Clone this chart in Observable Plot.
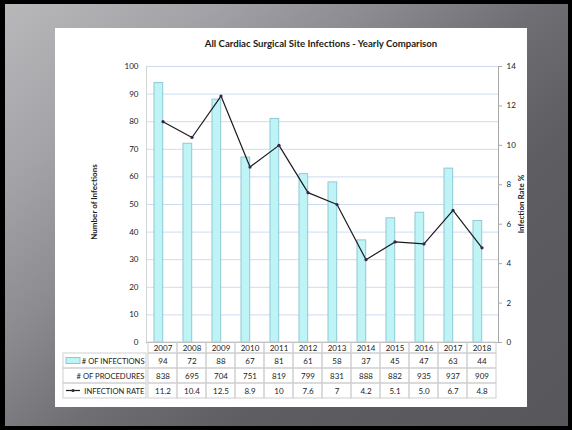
<!DOCTYPE html>
<html>
<head>
<meta charset="utf-8">
<script src="https://cdn.jsdelivr.net/npm/d3@7"></script>
<script src="https://cdn.jsdelivr.net/npm/@observablehq/plot@0.6"></script>
<style>
  html, body { margin: 0; padding: 0; }
  body { width: 572px; height: 430px; background: #000; position: relative; overflow: hidden; font-family: Lato, "Open Sans", sans-serif; }
  #frame { position: absolute; left: 5px; top: 4px; width: 563px; height: 422px;
    background: linear-gradient(138deg, #b8b8bb 0%, #a3a3a7 20%, #8c8b90 36%, #6f6e73 52%, #5e5d62 68%, #57565b 100%); }
  #panel { position: absolute; left: 55px; top: 28px; width: 472px; height: 379px; background: #fff; }
  .abs { position: absolute; }
  #title { position: absolute; left: 55px; width: 532px; top: 38px; text-align: center; font-weight: bold; font-size: 9.6px; color: #1a1a1a; }
  .ytitle { position: absolute; font-weight: bold; font-size: 8px; color: #1a1a1a; white-space: nowrap; transform-origin: center center; }
  svg { overflow: visible; }
</style>
</head>
<body>
<div id="frame"></div>
<div id="panel"></div>
<div id="title">All Cardiac Surgical Site Infections - Yearly Comparison</div>
<div class="ytitle" id="yl">Number of Infections</div>
<div class="ytitle" id="yr">Infection Rate %</div>
<div class="abs" id="chart" style="left:55px; top:56px;"></div>
<div class="abs" id="header" style="left:55px; top:342px;"></div>
<div class="abs" id="labels" style="left:63px; top:353px;"></div>
<div class="abs" id="table" style="left:55px; top:353px;"></div>
<script>
// ---- data ----
const years = ["2007","2008","2009","2010","2011","2012","2013","2014","2015","2016","2017","2018"];
const infections = [94, 72, 88, 67, 81, 61, 58, 37, 45, 47, 63, 44];
const procedures = [838, 695, 704, 751, 819, 799, 831, 888, 882, 935, 937, 909];
const rates = [11.2, 10.4, 12.5, 8.9, 10, 7.6, 7, 4.2, 5.1, 5.0, 6.7, 4.8];
const rateLabels = ["11.2","10.4","12.5","8.9","10","7.6","7","4.2","5.1","5.0","6.7","4.8"];
const leftTicks = [0,10,20,30,40,50,60,70,80,90,100];
const rightTicks = [0,2,4,6,8,10,12,14];
const rowLabels = ["# OF INFECTIONS", "# OF PROCEDURES", "INFECTION RATE"];

const RATE_MAX = 14, LEFT_MAX = 100;
const toLeft = r => r * LEFT_MAX / RATE_MAX;

const data = years.map((y, i) => ({year: y, infections: infections[i], procedures: procedures[i], rate: rates[i]}));

const W = 472, ML = 91, MR = 29;
const font = "Lato, 'Open Sans', sans-serif";

// ---- chart ----
const chart = Plot.plot({
  width: W, height: 286,
  marginLeft: ML, marginRight: MR, marginTop: 10, marginBottom: 0,
  style: {fontFamily: font, fontSize: "8px", color: "#222", background: "transparent", overflow: "visible"},
  x: {domain: years, padding: 0, axis: null},
  y: {domain: [0, LEFT_MAX], axis: null},
  marks: [
    Plot.ruleY(leftTicks, {stroke: "#cddcf1", strokeWidth: 1}),
    Plot.frame({anchor: "left", stroke: "#d4d4d4"}),
    Plot.barY(data, {x: "year", y: "infections", fill: "#bff4f7", stroke: "#8fc8d6", strokeWidth: 1, insetLeft: 6, insetRight: 14.3}),
    Plot.line(data, {x: "year", y: d => toLeft(d.rate), stroke: "#1c1c1c", strokeWidth: 1.2}),
    Plot.dot(data, {x: "year", y: d => toLeft(d.rate), r: 1.6, fill: "#3b2350", stroke: "none"}),
    Plot.frame({anchor: "right", stroke: "#a8a8a8"}),
    Plot.frame({anchor: "bottom", stroke: "#b0b0b0"}),
    Plot.text(leftTicks, {y: d => d, frameAnchor: "left", dx: -8, textAnchor: "end", fill: "#222"}),
    Plot.axisY ? Plot.axisY(rightTicks.map(toLeft), {anchor: "right", tickSize: 3, tickPadding: 5, stroke: "#a8a8a8", color: "#222", tickFormat: v => String(Math.round(v * RATE_MAX / LEFT_MAX)), label: null}) : null
  ]
});
document.getElementById("chart").append(chart);

// ---- table header (years) ----
const header = Plot.plot({
  width: W, height: 11,
  marginLeft: ML, marginRight: MR, marginTop: 0, marginBottom: 0,
  style: {fontFamily: font, fontSize: "8px", background: "transparent", overflow: "visible"},
  x: {domain: years, padding: 0, axis: null},
  marks: [
    Plot.cell(years, {x: d => d, fill: "none", stroke: "#cfcfcf", inset: 0}),
    Plot.text(years, {x: d => d, text: d => d, fill: "#222", dy: 0.5})
  ]
});
document.getElementById("header").append(header);

// ---- table body ----
const cells = [];
data.forEach(d => {
  cells.push({year: d.year, row: rowLabels[0], text: String(d.infections)});
  cells.push({year: d.year, row: rowLabels[1], text: String(d.procedures)});
});
years.forEach((y, i) => cells.push({year: y, row: rowLabels[2], text: rateLabels[i]}));

const table = Plot.plot({
  width: W, height: 45,
  marginLeft: ML, marginRight: MR, marginTop: 0, marginBottom: 0,
  style: {fontFamily: font, fontSize: "8px", background: "transparent", overflow: "visible"},
  x: {domain: years, padding: 0, axis: null},
  y: {domain: rowLabels, padding: 0, axis: null},
  marks: [
    Plot.cell(cells, {x: "year", y: "row", fill: "none", stroke: "#cfcfcf", inset: 0}),
    Plot.text(cells, {x: "year", y: "row", text: "text", fill: "#222", dy: 0.5})
  ]
});
document.getElementById("table").append(table);

// ---- row labels column ----
const labels = Plot.plot({
  width: 83, height: 45,
  marginLeft: 0, marginRight: 0, marginTop: 0, marginBottom: 0,
  style: {fontFamily: font, fontSize: "7.6px", background: "transparent", overflow: "visible"},
  y: {domain: rowLabels, padding: 0, axis: null},
  marks: [
    Plot.cell(rowLabels, {y: d => d, fill: "none", stroke: "#cfcfcf", inset: 0}),
    Plot.text(rowLabels, {y: d => d, text: d => d, frameAnchor: "right", textAnchor: "end", dx: -2, dy: 0.5, fill: "#222"})
  ]
});
document.getElementById("labels").append(labels);

// legend keys inside the label column
{
  const ys = labels.scale("y");
  const bwY = ys.bandwidth;
  const svg = d3.select(labels);
  const y0 = ys.apply(rowLabels[0]) + bwY / 2;
  svg.append("rect").attr("x", 3).attr("y", y0 - 3).attr("width", 14).attr("height", 6)
    .attr("fill", "#bff4f7").attr("stroke", "#8fc8d6");
  const y2 = ys.apply(rowLabels[2]) + bwY / 2;
  svg.append("line").attr("x1", 3).attr("x2", 17).attr("y1", y2).attr("y2", y2).attr("stroke", "#1c1c1c").attr("stroke-width", 1.2);
  svg.append("circle").attr("cx", 10).attr("cy", y2).attr("r", 1.6).attr("fill", "#3b2350");
}

// axis titles
function placeRot(id, cx, cy) {
  const el = document.getElementById(id);
  const w = el.offsetWidth, h = el.offsetHeight;
  el.style.left = (cx - w / 2) + "px";
  el.style.top = (cy - h / 2) + "px";
  el.style.transform = "rotate(-90deg)";
}
placeRot("yl", 93, 202);
placeRot("yr", 521, 204);
</script>
</body>
</html>
